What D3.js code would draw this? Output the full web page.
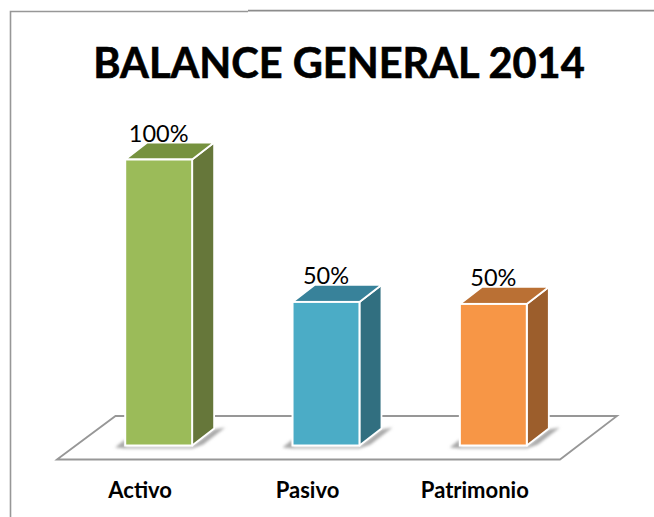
<!DOCTYPE html>
<html>
<head>
<meta charset="utf-8">
<style>
html,body{margin:0;padding:0;background:#fff}
svg{display:block}
text{font-family:Lato,"Open Sans",sans-serif;fill:#000}
</style>
<script src="https://cdn.jsdelivr.net/npm/d3@7"></script>
</head>
<body>
<svg id="c" width="654" height="517"></svg>
<script>
const titleText = "BALANCE GENERAL 2014";
const categories = ["Activo", "Pasivo", "Patrimonio"];
const values = [100, 50.2, 49.5];
const valueLabels = ["100%", "50%", "50%"];
const frontColors = ["#9BBB59", "#4BACC6", "#F79646"];
const sideColors = ["#66773A", "#316F80", "#9C5E2C"];
const topColors = ["#76923F", "#38829A", "#BA7034"];

const svg = d3.select("#c");
const x = d3.scaleBand().domain(categories).range([75, 577]).paddingInner(0.6).paddingOuter(0.3);
const y = d3.scaleLinear().domain([0, 100]).range([445.5, 159.5]);
const depthX = 22, depthY = -17;

const defs = svg.append("defs");
const blur = defs.append("filter").attr("id", "soft").attr("x", "-30%").attr("y", "-30%").attr("width", "160%").attr("height", "160%");
blur.append("feGaussianBlur").attr("stdDeviation", 1.6);

// frame
svg.append("path").attr("d", "M10.5 517V11.5H248").attr("fill", "none").attr("stroke", "#979797").attr("stroke-width", 1.6);
svg.append("path").attr("d", "M248 10.7H654").attr("fill", "none").attr("stroke", "#8c8c8c").attr("stroke-width", 1.8);

// floor
svg.append("path").attr("d", "M57 459.5L115.5 416H617L560 459.5Z")
  .attr("fill", "#fff").attr("stroke", "#979797").attr("stroke-width", 1.8);

const points = a => a.map(p => p.join(",")).join(" ");
const bars = svg.selectAll("g.bar").data(categories).join("g").attr("class", "bar");

// soft floor shadows
bars.append("polygon").attr("filter", "url(#soft)").attr("fill", "#a8a8a8")
  .attr("points", (c) => {
    const l = x(c), r = l + x.bandwidth(), b = y(0);
    return points([[l - 10, b + 2], [l, b - 6], [l, b + 1], [r, b + 1], [r + 22, b - 16], [r + 33, b - 18], [r + 11, b - 1], [r, b + 3], [l, b + 3]]);
  });

// side face
bars.append("polygon")
  .attr("fill", (c, i) => sideColors[i]).attr("stroke", "#fff").attr("stroke-width", 1.8).attr("stroke-linejoin", "round")
  .attr("points", (c, i) => {
    const r = x(c) + x.bandwidth(), t = y(values[i]), b = y(0);
    return points([[r, t], [r + depthX, t + depthY], [r + depthX, b + depthY], [r, b]]);
  });
// top face
bars.append("polygon")
  .attr("fill", (c, i) => topColors[i]).attr("stroke", "#fff").attr("stroke-width", 1.8).attr("stroke-linejoin", "round")
  .attr("points", (c, i) => {
    const l = x(c), r = l + x.bandwidth(), t = y(values[i]);
    return points([[l, t], [l + depthX, t + depthY], [r + depthX, t + depthY], [r, t]]);
  });
// front face
bars.append("rect")
  .attr("x", c => x(c)).attr("width", x.bandwidth())
  .attr("y", (c, i) => y(values[i])).attr("height", (c, i) => y(0) - y(values[i]))
  .attr("fill", (c, i) => frontColors[i]).attr("stroke", "#fff").attr("stroke-width", 2);

// value labels
bars.append("text")
  .attr("x", c => x(c) + x.bandwidth() / 2)
  .attr("y", (c, i) => y(values[i]) - 18)
  .attr("text-anchor", "middle").attr("font-size", 23.5)
  .text((c, i) => valueLabels[i]);

// category axis
const axis = d3.axisBottom(x).tickSize(0).tickPadding(0);
const gAxis = svg.append("g").attr("transform", "translate(-18.5,482)").call(axis);
gAxis.select(".domain").remove();
gAxis.selectAll("text").attr("font-size", 22).attr("font-weight", 700).attr("font-family", "Lato").attr("fill", "#000");
svg.append("text").attr("x", 339).attr("y", 77.5).attr("text-anchor", "middle")
  .attr("font-size", 41.5).attr("font-weight", 700).attr("stroke", "#000").attr("stroke-width", 0.6).text(titleText);
</script>
</body>
</html>
